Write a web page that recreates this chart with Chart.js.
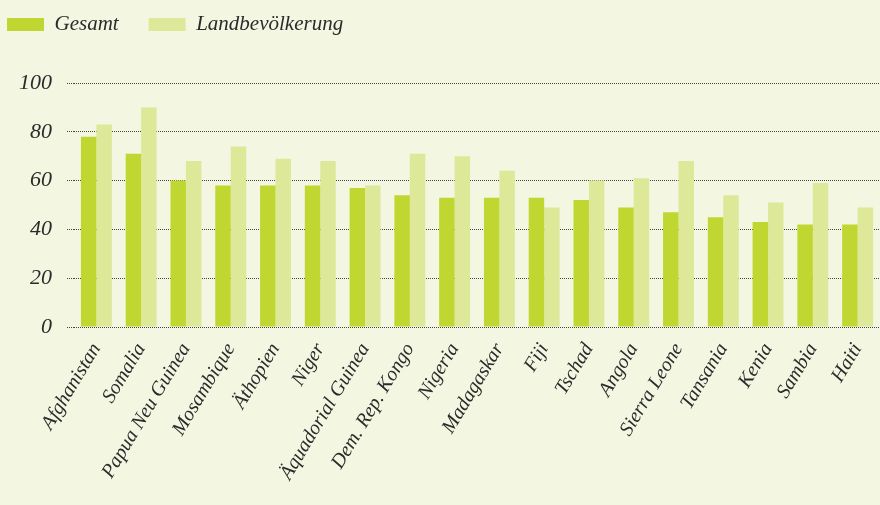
<!DOCTYPE html>
<html>
<head>
<meta charset="utf-8">
<script src="https://cdn.jsdelivr.net/npm/chart.js@4"></script>
<style>
  html, body { margin: 0; padding: 0; background: #f3f6e1; }
  #wrap { width: 880px; height: 505px; }
</style>
</head>
<body>
<div id="wrap"><canvas id="myChart"></canvas></div>
<script>
var countries = ['Afghanistan', 'Somalia', 'Papua Neu Guinea', 'Mosambique', 'Äthopien', 'Niger',
  'Äquadorial Guinea', 'Dem. Rep. Kongo', 'Nigeria', 'Madagaskar', 'Fiji', 'Tschad', 'Angola',
  'Sierra Leone', 'Tansania', 'Kenia', 'Sambia', 'Haiti'];
var gesamt = [78, 71, 60, 58, 58, 58, 57, 54, 53, 53, 53, 52, 49, 47, 45, 43, 42, 42];
var land = [83, 90, 68, 74, 69, 68, 58, 71, 70, 64, 49, 60, 61, 68, 54, 51, 59, 49];
var yTicks = [0, 20, 40, 60, 80, 100];

var serif = '"Liberation Serif", "DejaVu Serif", serif';

// legend: fixed height, and pulled back up/left since the big padding
// is only wanted between the two items
const legendFix = {
  id: 'legendFix',
  beforeInit(chart) {
    const fit = chart.legend.fit;
    chart.legend.fit = function () {
      fit.bind(chart.legend)();
      this.height = 83;
    };
  },
  afterLayout(chart) {
    chart.legend.left -= 23;
    chart.legend.top -= 16;
  }
};

const ctx = document.getElementById('myChart').getContext('2d');
const myChart = new Chart(ctx, {
  type: 'bar',
  data: {
    labels: countries,
    datasets: [
      {
        label: 'Gesamt',
        data: gesamt,
        backgroundColor: '#bfd730',
        borderWidth: 0,
        categoryPercentage: 0.69,
        barPercentage: 1
      },
      {
        label: 'Landbevölkerung',
        data: land,
        backgroundColor: '#dde899',
        borderWidth: 0,
        categoryPercentage: 0.69,
        barPercentage: 1
      }
    ]
  },
  plugins: [legendFix],
  options: {
    responsive: true,
    maintainAspectRatio: false,
    animation: false,
    layout: { padding: 0 },
    plugins: {
      tooltip: { enabled: false },
      legend: {
        align: 'start',
        labels: {
          boxWidth: 37,
          boxHeight: 13,
          padding: 30,
          color: '#2b2b2b',
          font: { family: serif, style: 'italic', size: 21 }
        }
      }
    },
    scales: {
      x: {
        grid: { display: false, drawTicks: false },
        border: { display: false },
        ticks: {
          color: '#2b2b2b',
          font: { family: serif, style: 'italic', size: 20 },
          minRotation: 59,
          maxRotation: 59,
          autoSkip: false,
          padding: 12
        },
        afterFit(scale) {
          scale.height = 178;
          scale.paddingLeft = 0;
          scale.paddingRight = 0;
        }
      },
      y: {
        min: 0,
        max: 100,
        afterBuildTicks(scale) {
          scale.ticks = yTicks.map(v => ({ value: v }));
        },
        grid: {
          color: '#444444',
          lineWidth: 1,
          tickLength: 7,
          tickColor: '#444444',
          tickBorderDash: [1, 1]
        },
        border: { display: false, dash: [1, 1] },
        ticks: {
          color: '#2b2b2b',
          font: { family: serif, style: 'italic', size: 22 },
          padding: 15
        },
        afterFit(scale) { scale.width = 74; }
      }
    }
  }
});
</script>
</body>
</html>
